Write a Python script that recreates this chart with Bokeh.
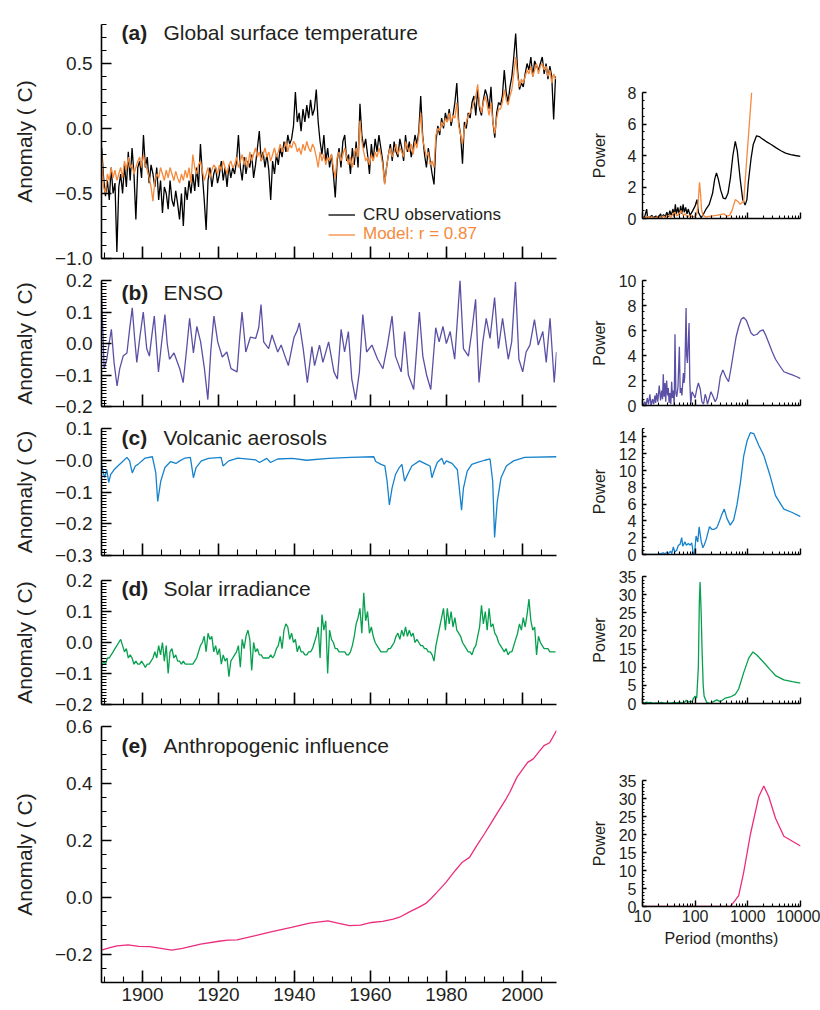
from bokeh.plotting import figure
from bokeh.layouts import row, column
from bokeh.models import FixedTicker, CustomJSTickFormatter, Label, Legend, LegendItem, Range1d
from bokeh.core.properties import value
from bokeh.embed import file_html
from bokeh.resources import INLINE

FONT = "Liberation Sans"
INK = "#231f20"
C_OBS = "#000000"
C_MOD = "#f58a3c"
C_ENSO = "#5a50a5"
C_VOL = "#1682cc"
C_SOL = "#06a04e"
C_ANT = "#ec2c7c"

# ---------------- time series (semiannual, 1889.25 ... 2008.75) ----------------
half_years = [1889.25 + 0.5 * i for i in range(240)]

cru_obs = [
    -0.15, -0.38, -0.52, -0.40, -0.55, -0.30, -0.50, -0.42, -0.95, -0.45,
    -0.35, -0.50, -0.28, -0.45, -0.18, -0.40, -0.15, -0.35, -0.70, -0.30,
    -0.25, -0.38, -0.05, -0.30, -0.22, -0.42, -0.28, -0.35, -0.45, -0.30,
    -0.55, -0.40, -0.65, -0.45, -0.50, -0.62, -0.40, -0.55, -0.60, -0.48,
    -0.58, -0.70, -0.50, -0.75, -0.45, -0.55, -0.40, -0.50, -0.35, -0.48,
    -0.30, -0.45, -0.12, -0.35, -0.55, -0.78, -0.40, -0.30, -0.45, -0.35,
    -0.30, -0.42, -0.35, -0.25, -0.40, -0.30, -0.45, -0.28, -0.38, -0.30,
    -0.35, -0.25, -0.05, -0.30, -0.40, -0.22, -0.35, -0.25, -0.30, -0.20,
    -0.38, -0.28, -0.15, -0.02, -0.25, -0.18, -0.30, -0.20, -0.32, -0.55,
    -0.25, -0.35, -0.20, -0.28, -0.15, -0.22, -0.10, -0.18, -0.05, -0.12,
    -0.08, 0.02, 0.28, 0.05, 0.12, -0.02, 0.15, 0.05, 0.18, 0.08,
    0.22, 0.10, 0.15, 0.30, 0.05, -0.10, -0.20, -0.05, -0.25, -0.15,
    -0.30, -0.20, -0.35, -0.53, -0.25, -0.15, -0.30, -0.10, -0.05, -0.25,
    -0.20, -0.35, -0.15, -0.28, -0.10, -0.30, 0.19, -0.05, -0.15, -0.08,
    -0.20, -0.35, -0.12, -0.25, -0.08, -0.18, -0.05, -0.15, -0.25, -0.42,
    -0.30, -0.20, -0.12, -0.25, -0.10, -0.18, -0.22, -0.08, -0.15, -0.25,
    -0.05, -0.18, -0.10, -0.22, -0.15, -0.05, -0.12, -0.02, 0.25, -0.05,
    -0.20, -0.30, -0.15, -0.25, -0.35, -0.43, -0.10, 0.02, -0.05, 0.08,
    0.00, 0.12, 0.05, 0.15, 0.02, 0.10, 0.20, 0.35, 0.05, -0.05,
    -0.27, 0.05, 0.00, 0.12, 0.08, 0.20, 0.25, 0.10, 0.30, 0.15,
    0.10, 0.22, 0.30, 0.25, 0.15, 0.32, 0.05, -0.07, 0.12, 0.20,
    0.18, 0.25, 0.45, 0.28, 0.20, 0.32, 0.40, 0.55, 0.73, 0.45,
    0.30, 0.35, 0.32, 0.42, 0.50, 0.45, 0.55, 0.40, 0.52, 0.48,
    0.45, 0.50, 0.55, 0.42, 0.50, 0.38, 0.48, 0.40, 0.07, 0.40,
]

model_fit = [
    -0.20, -0.45, -0.50, -0.35, -0.40, -0.30, -0.38, -0.32, -0.40, -0.35,
    -0.30, -0.38, -0.25, -0.32, -0.22, -0.30, -0.28, -0.35, -0.30, -0.25,
    -0.22, -0.30, -0.20, -0.28, -0.32, -0.38, -0.45, -0.56, -0.40, -0.35,
    -0.38, -0.30, -0.35, -0.40, -0.32, -0.38, -0.30, -0.35, -0.40, -0.33,
    -0.38, -0.42, -0.35, -0.40, -0.32, -0.38, -0.30, -0.42, -0.20, -0.30,
    -0.35, -0.28, -0.25, -0.32, -0.40, -0.35, -0.30, -0.38, -0.32, -0.28,
    -0.30, -0.35, -0.28, -0.32, -0.25, -0.30, -0.35, -0.28, -0.25, -0.30,
    -0.28, -0.22, -0.30, -0.25, -0.20, -0.28, -0.22, -0.30, -0.18, -0.25,
    -0.20, -0.15, -0.22, -0.18, -0.25, -0.20, -0.15, -0.22, -0.18, -0.25,
    -0.20, -0.15, -0.22, -0.18, -0.12, -0.18, -0.15, -0.10, -0.18, -0.12,
    -0.15, -0.10, -0.12, -0.18, -0.15, -0.20, -0.12, -0.17, -0.10, -0.15,
    -0.18, -0.12, -0.15, -0.22, -0.30, -0.18, -0.25, -0.20, -0.28, -0.22,
    -0.25, -0.20, -0.30, -0.38, -0.22, -0.18, -0.25, -0.20, -0.15, -0.22,
    -0.28, -0.22, -0.30, -0.20, -0.15, -0.22, 0.06, -0.10, -0.18, -0.25,
    -0.22, -0.28, -0.20, -0.25, -0.18, -0.22, -0.15, -0.20, -0.28, -0.43,
    -0.30, -0.20, -0.15, -0.22, -0.18, -0.12, -0.20, -0.15, -0.18, -0.22,
    -0.10, -0.15, -0.18, -0.12, -0.20, -0.10, -0.15, -0.05, 0.12, -0.08,
    -0.15, -0.22, -0.18, -0.28, -0.25, -0.30, -0.05, 0.00, -0.02, 0.05,
    0.02, 0.08, 0.05, 0.12, 0.05, 0.10, 0.08, 0.20, 0.02, -0.05,
    -0.12, 0.00, 0.05, 0.10, 0.12, 0.15, 0.20, 0.25, 0.34, 0.18,
    0.12, 0.20, 0.25, 0.18, 0.10, 0.20, 0.05, -0.04, 0.08, 0.15,
    0.15, 0.20, 0.30, 0.22, 0.18, 0.25, 0.30, 0.42, 0.55, 0.40,
    0.32, 0.38, 0.35, 0.40, 0.45, 0.42, 0.48, 0.40, 0.45, 0.50,
    0.42, 0.48, 0.50, 0.45, 0.48, 0.40, 0.45, 0.35, 0.42, 0.38,
]

solar = [
    -0.08, -0.06, -0.07, -0.05, -0.05, -0.04, -0.03, -0.02, -0.01, 0.00,
    0.01, -0.01, -0.03, -0.02, -0.05, -0.04, -0.05, -0.07, -0.06, -0.07,
    -0.07, -0.06, -0.07, -0.08, -0.07, -0.07, -0.06, -0.05, -0.03, -0.05,
    -0.01, -0.04, 0.00, -0.06, -0.01, -0.10, -0.03, -0.02, -0.05, -0.04,
    -0.06, -0.06, -0.07, -0.06, -0.07, -0.07, -0.07, -0.07, -0.07, -0.06,
    -0.05, -0.03, -0.01, 0.00, 0.02, -0.03, 0.03, 0.01, 0.02, -0.03,
    -0.01, -0.04, -0.02, -0.07, -0.04, -0.06, -0.05, -0.11, -0.06, -0.05,
    -0.04, -0.03, -0.01, -0.08, 0.01, -0.02, 0.02, 0.04, 0.01, -0.09,
    0.00, -0.03, -0.02, -0.04, -0.04, -0.05, -0.05, -0.05, -0.05, -0.04,
    -0.05, -0.04, -0.02, -0.01, 0.02, -0.02, 0.04, 0.06, 0.05, 0.01,
    0.03, 0.00, 0.01, -0.03, -0.01, -0.03, -0.03, -0.04, -0.04, -0.03,
    -0.03, -0.02, 0.00, 0.02, 0.05, -0.05, 0.09, 0.04, 0.07, -0.10,
    0.04, 0.01, 0.00, -0.02, -0.02, -0.03, -0.03, -0.03, -0.03, -0.04,
    -0.04, -0.03, -0.01, 0.02, 0.06, 0.08, 0.11, 0.03, 0.16, 0.07,
    0.10, 0.03, 0.05, 0.02, 0.00, -0.01, -0.02, -0.03, -0.03, -0.03,
    -0.03, -0.02, -0.02, -0.01, 0.00, 0.02, 0.03, 0.01, 0.04, 0.02,
    0.05, 0.02, 0.04, 0.02, 0.03, 0.00, 0.01, 0.00, -0.01, -0.01,
    -0.02, -0.02, -0.03, -0.03, -0.04, -0.06, -0.01, 0.02, 0.05, 0.08,
    0.11, 0.04, 0.11, 0.06, 0.10, 0.05, 0.08, 0.04, 0.03, 0.02,
    0.00, -0.01, -0.02, -0.03, -0.03, -0.04, -0.02, -0.01, 0.02, 0.05,
    0.12, 0.06, 0.10, 0.04, 0.11, 0.05, 0.06, 0.03, 0.02, 0.00,
    -0.01, -0.02, -0.03, -0.02, -0.04, -0.03, -0.03, -0.01, 0.01, 0.03,
    0.06, 0.04, 0.08, 0.05, 0.09, 0.14, 0.07, 0.04, 0.05, -0.04,
    0.02, 0.00, -0.01, -0.02, -0.02, -0.02, -0.03, -0.03, -0.03, -0.03,
]

# (year, anomaly) pairs
enso = [
    (1889.2, 0.157), (1889.9, -0.08), (1890.6, -0.05), (1891.2, 0.00), (1891.8, 0.045),
    (1892.5, -0.06), (1893.3, -0.135), (1894.0, -0.08), (1894.9, -0.04), (1895.9, -0.03),
    (1896.6, 0.045), (1897.3, 0.113), (1897.9, 0.02), (1898.5, -0.06), (1899.3, 0.02),
    (1900.2, 0.10), (1901.1, -0.016), (1901.8, -0.04), (1902.5, 0.03), (1903.1, 0.087),
    (1904.2, -0.09), (1905.0, 0.00), (1905.9, 0.092), (1906.5, 0.00), (1907.1, -0.05),
    (1908.3, -0.03), (1909.8, -0.08), (1910.7, -0.124), (1911.6, -0.02), (1912.4, 0.08),
    (1913.4, -0.03), (1914.3, 0.054), (1915.3, 0.005), (1916.3, -0.08), (1917.2, -0.178),
    (1918.0, -0.02), (1918.8, 0.087), (1919.8, 0.005), (1921.0, -0.043), (1922.2, -0.027),
    (1923.3, -0.08), (1924.9, -0.09), (1925.6, 0.02), (1926.2, 0.10), (1927.2, -0.027),
    (1928.4, 0.02), (1929.8, 0.016), (1930.6, 0.05), (1931.2, 0.124), (1931.9, 0.005),
    (1933.2, -0.016), (1934.1, 0.027), (1935.6, -0.027), (1936.5, -0.005), (1937.5, -0.04),
    (1938.4, -0.07), (1939.9, 0.02), (1940.7, 0.04), (1941.3, 0.065), (1942.3, -0.016),
    (1943.4, -0.124), (1944.6, -0.01), (1945.3, -0.07), (1946.6, -0.005), (1947.5, -0.06),
    (1949.0, 0.005), (1950.4, -0.09), (1951.3, -0.113), (1952.3, 0.045), (1953.2, -0.027),
    (1954.2, 0.038), (1955.1, -0.113), (1956.1, -0.178), (1957.1, -0.09), (1958.0, 0.092),
    (1959.0, -0.027), (1960.4, -0.005), (1961.9, -0.05), (1963.3, -0.08), (1964.5, -0.005),
    (1965.7, 0.087), (1966.6, -0.04), (1968.1, -0.09), (1969.0, 0.038), (1970.0, -0.10),
    (1971.4, -0.146), (1972.9, 0.10), (1973.8, -0.04), (1974.8, -0.10), (1975.9, -0.146),
    (1977.2, 0.05), (1978.1, 0.005), (1979.1, 0.054), (1980.0, 0.0), (1981.0, 0.038),
    (1982.2, -0.05), (1983.6, 0.20), (1984.5, -0.016), (1985.8, -0.04), (1986.7, 0.038),
    (1987.7, 0.14), (1988.6, -0.124), (1989.6, 0.005), (1990.5, 0.08), (1991.5, 0.016),
    (1992.7, 0.146), (1993.7, -0.016), (1994.8, 0.08), (1996.3, -0.05), (1997.2, 0.005),
    (1998.2, 0.195), (1999.1, -0.05), (2000.1, -0.09), (2001.0, -0.027), (2002.0, -0.005),
    (2003.2, 0.076), (2004.2, -0.005), (2005.4, 0.038), (2006.3, -0.06), (2007.3, 0.08),
    (2008.4, -0.124), (2009.0, -0.027),
]

volcanic = [
    (1889.2, -0.013), (1890.0, -0.055), (1890.6, -0.03), (1891.1, -0.07), (1891.6, -0.045),
    (1892.5, -0.03), (1893.5, -0.018), (1894.7, -0.005), (1895.9, 0.009), (1896.6, -0.002),
    (1897.3, -0.04), (1898.1, -0.018), (1898.8, -0.013), (1900.7, 0.007), (1902.6, 0.011),
    (1903.5, -0.04), (1904.0, -0.13), (1904.8, -0.066), (1905.9, -0.023), (1907.4, -0.004),
    (1908.8, -0.01), (1909.8, -0.002), (1911.2, 0.007), (1912.6, 0.009), (1913.4, -0.055),
    (1914.1, -0.023), (1915.5, -0.002), (1917.4, 0.006), (1920.7, 0.009), (1921.2, -0.018),
    (1922.7, -0.002), (1925.1, 0.007), (1929.8, 0.001), (1930.8, -0.007), (1932.7, 0.006),
    (1933.7, -0.007), (1935.6, 0.004), (1939.4, 0.006), (1943.2, 0.0), (1949.0, 0.006),
    (1954.7, 0.009), (1960.9, 0.011), (1961.4, -0.004), (1962.8, -0.013), (1963.8, -0.018),
    (1964.4, -0.066), (1965.0, -0.141), (1965.7, -0.088), (1966.6, -0.045), (1967.6, -0.023),
    (1968.3, -0.013), (1969.0, -0.066), (1969.8, -0.045), (1970.9, -0.018), (1972.9, -0.002),
    (1974.8, -0.013), (1975.7, -0.018), (1976.2, -0.055), (1976.9, -0.03), (1977.6, -0.007),
    (1978.8, 0.006), (1979.4, -0.013), (1980.0, -0.002), (1981.5, -0.01), (1982.9, -0.03),
    (1983.6, -0.11), (1984.0, -0.157), (1984.5, -0.088), (1985.5, -0.034), (1986.7, -0.013),
    (1988.2, -0.007), (1990.1, 0.0), (1991.5, 0.004), (1992.2, -0.066), (1992.7, -0.243),
    (1993.4, -0.13), (1994.4, -0.055), (1995.8, -0.018), (1997.7, -0.002), (2000.6, 0.009),
    (2009.0, 0.011),
]

anthropogenic = [
    (1889.2, -0.186), (1891.4, -0.177), (1893.3, -0.171), (1896.2, -0.168), (1899.0, -0.173),
    (1901.9, -0.174), (1904.8, -0.180), (1907.7, -0.186), (1910.5, -0.180), (1915.3, -0.165),
    (1920.1, -0.155), (1922.5, -0.151), (1924.9, -0.150), (1929.7, -0.135), (1934.4, -0.120),
    (1939.2, -0.106), (1944.0, -0.091), (1948.8, -0.083), (1951.7, -0.092), (1954.5, -0.100),
    (1957.4, -0.098), (1960.3, -0.089), (1963.2, -0.085), (1966.0, -0.077), (1967.9, -0.069),
    (1970.8, -0.048), (1972.7, -0.036), (1974.6, -0.022), (1976.1, -0.003), (1977.5, 0.017),
    (1979.9, 0.052), (1982.3, 0.093), (1984.2, 0.123), (1986.1, 0.140), (1988.0, 0.181),
    (1990.0, 0.222), (1991.9, 0.263), (1993.8, 0.304), (1995.7, 0.345), (1996.7, 0.369),
    (1998.6, 0.422), (2000.5, 0.457), (2001.4, 0.474), (2002.9, 0.486), (2004.3, 0.510),
    (2005.7, 0.533), (2007.2, 0.543), (2009.0, 0.586),
]

# ---------------- power spectra: (period in months, power) ----------------
spec_cru = [
    (10, 0.05), (11, 0.1), (12, 0.6), (12.5, 0.05), (14, 0.1), (15, 0.2), (16, 0.05), (18, 0.15),
    (20, 0.05), (22, 0.3), (23, 0.05), (25, 0.25), (27, 0.1), (29, 0.4), (31, 0.1), (33, 0.5),
    (35, 0.2), (38, 0.6), (40, 0.1), (42, 0.9), (44, 0.3), (47, 0.7), (50, 0.2), (53, 0.8),
    (56, 0.3), (59, 0.9), (62, 0.4), (66, 0.7), (70, 0.3), (74, 0.6), (80, 0.2), (90, 0.5),
    (100, 0.8), (108, 1.2), (115, 0.4), (130, 0.05), (145, 0.3), (161, 0.6), (185, 0.9),
    (214, 1.6), (235, 2.5), (254, 2.9), (275, 2.5), (305, 1.8), (340, 1.3), (378, 1.25),
    (420, 1.6), (468, 2.6), (520, 4.0), (578, 4.9), (630, 4.3), (716, 2.5), (800, 1.2),
    (887, 0.85), (960, 1.2), (1023, 2.3), (1150, 3.8), (1267, 4.7), (1462, 5.25), (1650, 5.2),
    (1809, 5.1), (2200, 4.9), (2773, 4.7), (3400, 4.5), (4250, 4.3), (5200, 4.15), (6510, 4.05),
    (8000, 4.0), (10000, 3.95),
]
spec_model = [
    (10, 0.1), (11, 0.0), (12, 0.15), (13, 0.05), (15, 0.1), (17, 0.0), (19, 0.1), (22, 0.05),
    (25, 0.15), (28, 0.05), (31, 0.2), (35, 0.1), (38, 0.3), (41, 0.4), (45, 0.15), (49, 0.3),
    (54, 0.5), (59, 0.2), (65, 0.3), (70, 0.1), (80, 0.2), (90, 0.1), (100, 0.15), (108, 0.3),
    (115, 1.2), (121, 2.3), (127, 1.5), (132, 0.6), (140, 0.2), (160, 0.1), (200, 0.15),
    (250, 0.2), (300, 0.25), (351, 0.3), (400, 0.15), (450, 0.2), (500, 0.5), (578, 1.2),
    (640, 1.1), (716, 0.9), (790, 1.05), (830, 1.0), (1181, 8.0),
]
spec_enso = [
    (10, 0.2), (10.5, 0.0), (11.1, 0.3), (11.7, 0.0), (12.3, 0.6), (13, 0.1), (13.8, 0.9),
    (14.5, 0.0), (15.5, 0.5), (16.3, 0.1), (17.2, 0.8), (17.8, 0.2), (18.5, 1.0), (19.5, 0.3),
    (20.8, 1.6), (22, 0.4), (23.1, 1.2), (24, 0.5), (24.8, 2.5), (25.7, 0.7), (26.7, 1.8),
    (27.6, 0.3), (28.7, 2.0), (30, 0.8), (30.9, 1.4), (32, 0.2), (33.2, 1.0), (34.5, 0.1),
    (35.8, 1.9), (37, 0.6), (38.5, 1.2), (40, 0.0), (41.4, 5.7), (43, 1.0), (44.6, 0.7),
    (47.2, 1.5), (50.1, 4.7), (52, 1.0), (53.9, 1.4), (56, 0.8), (59.7, 2.6), (61.5, 1.8),
    (63.4, 2.3), (67.2, 7.8), (69, 4.0), (71.2, 3.4), (76.6, 6.6), (79, 2.0), (82.4, 0.1),
    (87, 1.1), (92.7, 0.9), (99.7, 0.6), (107, 1.3), (115, 1.8), (125, 1.3), (134, 0.3),
    (144, 0.1), (155, 0.9), (163, 0.6), (171, 0.1), (185, 0.6), (199, 1.1), (215, 0.8),
    (240, 0.3), (260, 0.6), (278, 1.3), (300, 2.3), (336, 2.85), (380, 2.3), (431, 1.9),
    (480, 3.0), (538, 4.3), (600, 5.5), (670, 6.3), (750, 6.9), (834, 7.05), (940, 6.8),
    (1040, 6.3), (1150, 5.8), (1295, 5.6), (1500, 5.7), (1700, 5.95), (1951, 6.05),
    (2200, 5.6), (2502, 5.0), (2900, 4.3), (3352, 3.7), (4000, 3.2), (4833, 2.7),
    (6000, 2.55), (6978, 2.45), (8500, 2.3), (10000, 2.15),
]
spec_volcanic = [
    (10, 0.0), (20, 0.05), (25, 0.2), (27, 0.0), (28.7, 0.3), (31, 0.1), (34, 0.4), (36, 0.1),
    (38.5, 0.9), (41, 0.3), (44.6, 0.5), (48, 1.1), (51.6, 1.2), (55.5, 2.0), (58, 1.0),
    (64.2, 1.5), (68, 1.1), (74.3, 1.3), (80, 1.1), (86.1, 1.4), (92.7, 0.0), (98, 0.3),
    (104, 2.2), (112, 1.5), (119, 3.3), (130, 1.6), (140, 0.8), (150, 1.2), (162, 1.8),
    (175, 2.6), (187, 3.3), (207, 3.0), (230, 3.0), (258, 3.2), (290, 4.0), (322, 4.8),
    (357, 5.4), (401, 4.3), (464, 3.5), (538, 4.1), (622, 5.9), (721, 8.5), (834, 11.7),
    (966, 13.5), (1117, 14.5), (1295, 14.4), (1612, 13.0), (2009, 11.8), (2613, 9.5),
    (3352, 7.0), (4833, 5.4), (6978, 5.0), (10000, 4.5),
]
spec_solar = [
    (10, 0.3), (11, 0.1), (12, 0.4), (13, 0.2), (14, 0.3), (16, 0.1), (18, 0.2), (20, 0.1),
    (23, 0.3), (26, 0.1), (30, 0.2), (34, 0.1), (40, 0.3), (45, 0.2), (50, 0.4), (56, 0.1),
    (62, 0.3), (68, 0.9), (73, 0.4), (80, 0.6), (88, 0.5), (93, 1.5), (99.7, 2.0), (107, 1.5),
    (115, 10.0), (120, 28.0), (124, 33.5), (130, 25.0), (135, 15.0), (142, 5.0), (148, 2.0),
    (166, 0.3), (192, 0.0), (222, 0.5), (258, 1.0), (299, 0.5), (373, 1.5), (464, 1.8),
    (578, 2.5), (670, 4.0), (834, 8.5), (1040, 12.5), (1254, 14.2), (1500, 13.3),
    (2009, 11.3), (2700, 9.2), (3352, 7.7), (4833, 6.5), (6978, 6.0), (10000, 5.6),
]
spec_anthro = [
    (10, 0.0), (100, 0.0), (400, 0.0), (464, 0.0), (560, 1.5), (670, 3.0), (834, 9.5),
    (1117, 20.0), (1612, 30.5), (2009, 33.5), (2502, 30.5), (3352, 24.5), (4833, 19.5),
    (10000, 16.8),
]

YEAR_MAJOR = [1900, 1920, 1940, 1960, 1980, 2000]
YEAR_MINOR = list(range(1890, 2010, 5))
PERIOD_MAJOR = [10, 100, 1000, 10000]
PERIOD_MINOR = [m * d for d in (10, 100, 1000) for m in range(2, 10)]


def steps(a, b, step):
    n = int(round((b - a) / step))
    return [round(a + i * step, 4) for i in range(n + 1)]


def xs(pairs):
    return [p[0] for p in pairs]


def ys(pairs):
    return [p[1] for p in pairs]


def style_axis(ax, size, tick_in, minor_in, lw=1.6):
    ax.axis_line_color = "black"
    ax.axis_line_width = lw
    ax.major_tick_line_color = "black"
    ax.major_tick_line_width = lw
    ax.minor_tick_line_color = "black"
    ax.minor_tick_line_width = 1.1
    ax.major_tick_in = tick_in
    ax.major_tick_out = 0
    ax.minor_tick_in = minor_in
    ax.minor_tick_out = 0
    ax.major_label_text_font = FONT
    ax.major_label_text_font_size = size
    ax.major_label_text_color = INK
    ax.axis_label_text_font = FONT
    ax.axis_label_text_font_style = "normal"
    ax.axis_label_text_color = INK


def left_panel(height, top, bottom, yr, ymajor, ystep, zero_txt, letter, title, title_y, show_years=False):
    p = figure(width=580, height=height, x_range=Range1d(1889.2, 2009.0), y_range=Range1d(*yr),
               min_border_left=101, min_border_right=24, min_border_top=top, min_border_bottom=bottom,
               output_backend="svg", toolbar_location=None)
    p.outline_line_color = None
    p.grid.visible = False
    xa = p.xaxis[0]
    ya = p.yaxis[0]
    style_axis(xa, "19px", 12, 6)
    style_axis(ya, "19px", 10, 5)
    xa.ticker = FixedTicker(ticks=YEAR_MAJOR, minor_ticks=YEAR_MINOR)
    if show_years:
        xa.formatter = CustomJSTickFormatter(code="return tick.toFixed(0);")
        xa.major_label_standoff = 5
    else:
        xa.formatter = CustomJSTickFormatter(code="return '';")
        xa.major_label_text_font_size = "0px"
        xa.major_label_standoff = 0
    ya.ticker = FixedTicker(ticks=ymajor, minor_ticks=steps(yr[0], yr[1], ystep))
    ya.formatter = CustomJSTickFormatter(
        args=dict(zero=zero_txt),
        code="if (Math.abs(tick) < 1e-9) { return zero; } return tick.toFixed(1).replace('-', '\\u2212');")
    ya.major_label_standoff = 9
    ya.axis_label = "Anomaly ( C)"
    ya.axis_label_text_font_size = "21px"
    ya.axis_label_standoff = 16
    p.add_layout(Label(x=20, y=title_y, x_units="screen", y_units="screen", text=letter,
                       text_font=FONT, text_font_size="21px", text_font_style="bold",
                       text_color=INK, text_baseline="alphabetic"))
    p.add_layout(Label(x=62, y=title_y, x_units="screen", y_units="screen", text=title,
                       text_font=FONT, text_font_size="21px", text_color=INK,
                       text_baseline="alphabetic"))
    return p


def right_panel(height, top, bottom, ymax, ymajor, ystep, label_standoff, show_periods=False):
    p = figure(width=240, height=height, x_axis_type="log", x_range=Range1d(10, 10000),
               y_range=Range1d(0, ymax), min_border_left=62, min_border_right=20,
               min_border_top=top, min_border_bottom=bottom,
               output_backend="svg", toolbar_location=None)
    p.outline_line_color = None
    p.grid.visible = False
    xa = p.xaxis[0]
    ya = p.yaxis[0]
    style_axis(xa, "16px", 6, 3, lw=1.4)
    style_axis(ya, "16px", 4, 2, lw=1.4)
    xa.ticker = FixedTicker(ticks=PERIOD_MAJOR, minor_ticks=PERIOD_MINOR)
    if show_periods:
        xa.formatter = CustomJSTickFormatter(code="return tick.toFixed(0);")
        xa.major_label_standoff = 3
        xa.axis_label = "Period (months)"
        xa.axis_label_text_font_size = "16px"
        xa.axis_label_standoff = 5
    else:
        xa.formatter = CustomJSTickFormatter(code="return '';")
        xa.major_label_text_font_size = "0px"
        xa.major_label_standoff = 0
    ya.ticker = FixedTicker(ticks=ymajor, minor_ticks=steps(0, ymax, ystep))
    ya.formatter = CustomJSTickFormatter(code="return tick.toFixed(0);")
    ya.major_label_standoff = 6
    ya.axis_label = "Power"
    ya.axis_label_text_font_size = "16px"
    ya.axis_label_standoff = label_standoff
    return p


LW = 1.3

# ---- (a) global temperature ----
la = left_panel(269, 24, 11, (-1.0, 0.8), [-1.0, -0.5, 0.0, 0.5], 0.1, "0.0",
                "(a)", "Global surface temperature", 226.3)
r_obs = la.line(half_years, cru_obs, line_color=C_OBS, line_width=LW)
r_mod = la.line(half_years, model_fit, line_color=C_MOD, line_width=LW)
for item, col, vy in (("CRU observations", INK, 33.5), ("Model: r = 0.87", C_MOD, 14.0)):
    rend = r_obs if col == INK else r_mod
    leg = Legend(items=[LegendItem(label=value(item), renderers=[rend])], location=(227, vy),
                 border_line_color=None, background_fill_alpha=0, padding=0, margin=0, spacing=0,
                 glyph_width=27, glyph_height=17, label_height=17, label_standoff=8,
                 label_text_font=FONT, label_text_font_size="17px", label_text_color=col)
    la.add_layout(leg)

ra = right_panel(248, 92, 30, 8, [0, 2, 4, 6, 8], 0.5, 17)
ra.line(xs(spec_cru), ys(spec_cru), line_color=C_OBS, line_width=LW)
ra.line(xs(spec_model), ys(spec_model), line_color=C_MOD, line_width=LW)

# ---- (b) ENSO ----
lb = left_panel(148, 11, 11, (-0.2, 0.2), [-0.2, -0.1, 0.0, 0.1, 0.2], 0.01, "0.0",
                "(b)", "ENSO", 114)
lb.line(xs(enso), ys(enso), line_color=C_ENSO, line_width=LW)
rb = right_panel(168, 32, 11, 10, [0, 2, 4, 6, 8, 10], 0.5, 8)
rb.line(xs(spec_enso), ys(spec_enso), line_color=C_ENSO, line_width=LW)

# ---- (c) volcanic ----
lc = left_panel(150, 11, 12, (-0.3, 0.1), [-0.3, -0.2, -0.1, 0.0, 0.1], 0.01, "\u22120.0",
                "(c)", "Volcanic aerosols", 118)
lc.line(xs(volcanic), ys(volcanic), line_color=C_VOL, line_width=LW)
rc = right_panel(149, 12, 11, 15, [0, 2, 4, 6, 8, 10, 12, 14], 0.5, 8)
rc.line(xs(spec_volcanic), ys(spec_volcanic), line_color=C_VOL, line_width=LW)

# ---- (d) solar ----
ld = left_panel(148, 13, 11, (-0.2, 0.2), [-0.2, -0.1, 0.0, 0.1, 0.2], 0.01, "0.0",
                "(d)", "Solar irradiance", 116)
ld.line(half_years, solar, line_color=C_SOL, line_width=LW)
rd = right_panel(168, 11, 30, 35, [0, 5, 10, 15, 20, 25, 30, 35], 1, 8)
rd.line(xs(spec_solar), ys(spec_solar), line_color=C_SOL, line_width=LW)

# ---- (e) anthropogenic ----
le = left_panel(295, 11, 28, (-0.3, 0.6), [-0.2, 0.0, 0.2, 0.4, 0.6], 0.05, "0.0",
                "(e)", "Anthropogenic influence", 237, show_years=True)
le.line(xs(anthropogenic), ys(anthropogenic), line_color=C_ANT, line_width=LW)
re_ = right_panel(277, 47, 104, 35, [0, 5, 10, 15, 20, 25, 30, 35], 1, 8, show_periods=True)
re_.line(xs(spec_anthro), ys(spec_anthro), line_color=C_ANT, line_width=LW)

layout = row(column(la, lb, lc, ld, le), column(ra, rb, rc, rd, re_))

open("out.html", "w").write(file_html(layout, INLINE))
